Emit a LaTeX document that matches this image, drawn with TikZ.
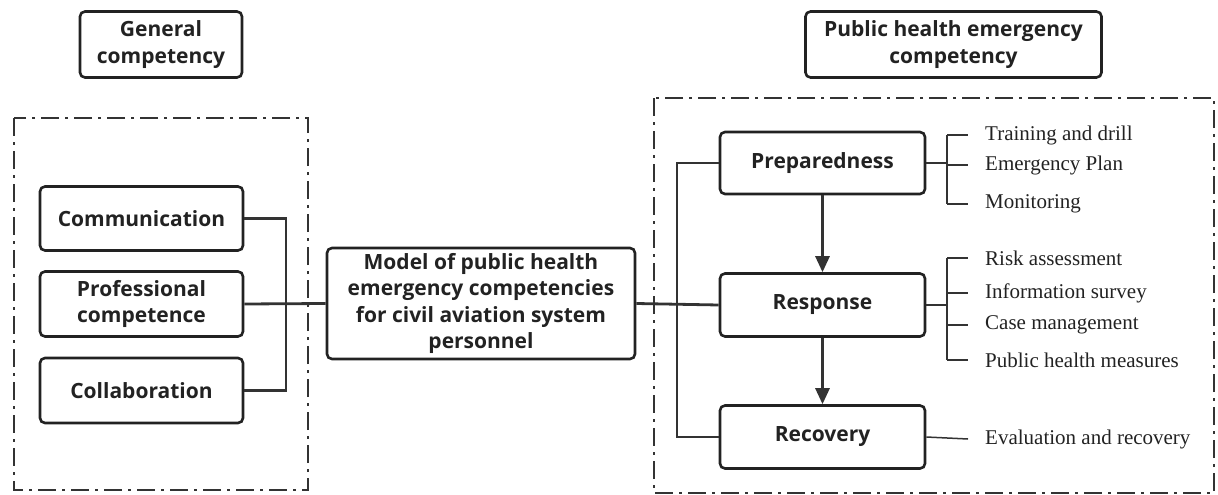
\documentclass[tikz,border=0pt]{standalone}
\usepackage{fontspec}
\setmainfont{Liberation Serif}
\newfontfamily\boxfont{Open Sans}
\usetikzlibrary{arrows.meta}
\definecolor{ink}{HTML}{222222}
\definecolor{wire}{HTML}{333333}

\tikzset{
  box/.style={draw=ink, line width=2.6pt, rounded corners=5pt, align=center,
    text=ink, font=\boxfont\bfseries\fontsize{21}{26.5}\selectfont, inner sep=0pt},
  link/.style={draw=wire, line width=2.8pt},
  flow/.style={link, -{Triangle[length=16pt,width=14pt]}},
  twig/.style={draw=wire, line width=1.5pt},
  item/.style={anchor=west, inner xsep=17pt, inner ysep=0pt, text=ink, yshift=-2pt,
    font=\fontsize{21}{24}\selectfont},
  frame/.style={draw=wire, line width=1.5pt, dash pattern=on 18pt off 6pt on 3pt off 6pt}
}

\begin{document}
\begin{tikzpicture}[x=1pt, y=-1pt]
\useasboundingbox (0,0) rectangle (1218,495);
% dash-dot frames
\draw[frame] (14,118) rectangle (308,490);
\draw[frame] (654,98) rectangle (1214,493);
% headings
\node[box, minimum width=162pt, minimum height=66pt] (gencomp) at (161,44.5) {General\\competency};
\node[box, minimum width=296pt, minimum height=66pt] (phecomp) at (953.5,44.5) {Public health emergency\\competency};
% general competency
\node[box, minimum width=203pt, minimum height=64pt] (comm) at (141.5,218.5) {Communication};
\node[box, minimum width=203pt, minimum height=65pt] (prof) at (141.5,304) {Professional\\competence};
\node[box, minimum width=203pt, minimum height=65pt] (collab) at (141.5,390.5) {Collaboration};
% model
\node[box, minimum width=308pt, minimum height=111pt] (model) at (481,303.5)
  {Model of public health\\emergency competencies\\for civil aviation system\\personnel};
% phases
\node[box, minimum width=205pt, minimum height=62pt] (prep) at (822.5,163) {Preparedness};
\node[box, minimum width=205pt, minimum height=63pt] (resp) at (822.5,305) {Response};
\node[box, minimum width=205pt, minimum height=63pt] (recov) at (822.5,437) {Recovery};
% buses
\coordinate (lbus) at (286,0);
\coordinate (rbus) at (677,0);
\draw[link] (comm.east) -- (comm.east -| lbus) -- (collab.east -| lbus) -- (collab.east);
\draw[link] (prof.east) -- (model.west);
\draw[link] (model.east) -- (resp.west);
\draw[link] (prep.west) -- (prep.west -| rbus) -- (recov.west -| rbus) -- (recov.west);
\draw[flow] (prep) -- (resp);
\draw[flow] (resp) -- (recov);
% measures
\foreach \name/\txt/\y in {tr/Training and drill/133, ep/Emergency Plan/163, mon/Monitoring/202,
  ra/Risk assessment/256, is/Information survey/291, cm/Case management/323,
  phm/Public health measures/358, er/Evaluation and recovery/437}
  \node[item] (\name) at (968,\y) {\txt};
\coordinate (pbr) at (947,0);
\draw[twig] (prep.east) -- (prep.east -| pbr);
\draw[twig] (tr.west -| pbr) -- (mon.west -| pbr);
\draw[twig] (resp.east) -- (resp.east -| pbr);
\draw[twig] (ra.west -| pbr) -- (phm.west -| pbr);
\foreach \n in {tr,ep,mon,ra,is,cm,phm}
  \draw[twig] (\n.west -| pbr) -- (\n.west);
\draw[twig] (recov.east) -- (er.west);
\end{tikzpicture}
\end{document}
